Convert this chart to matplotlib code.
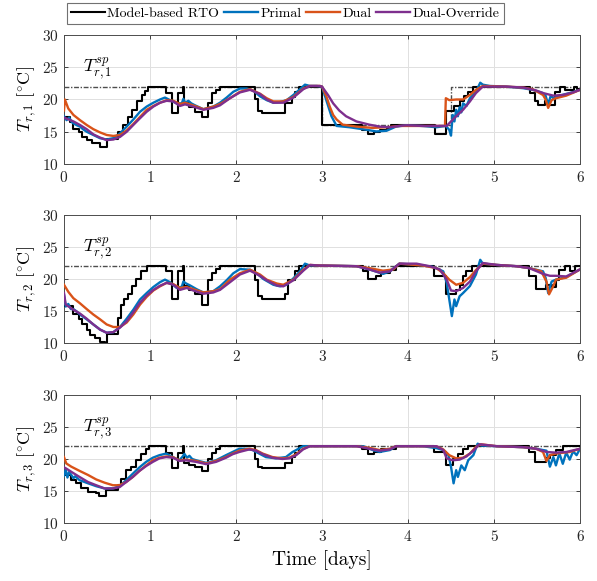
import matplotlib
matplotlib.use("Agg")
import matplotlib.pyplot as plt
import numpy as np

plt.rcParams['font.family'] = ['cmr10', 'DejaVu Serif']
plt.rcParams['mathtext.fontset'] = 'cm'
plt.rcParams['axes.unicode_minus'] = False
plt.rcParams['axes.formatter.use_mathtext'] = True

C_RTO = 'black'
C_PRI = '#0072BD'
C_DUAL = '#D95319'
C_OVR = '#7E2F8E'

legend_labels = ['Model-based RTO', 'Primal', 'Dual', 'Dual-Override']
xticks = [0, 1, 2, 3, 4, 5, 6]
yticks = [10, 15, 20, 25, 30]

# ---------------- setpoints ----------------
sp1_t = [0, 3.0, 3.0, 4.5, 4.5, 6.0]
sp1_T = [22, 22, 16, 16, 22, 22]
sp2_t = [0, 6.0]
sp2_T = [22, 22]
sp3_t = [0, 6.0]
sp3_T = [22, 22]

# ---------------- panel 1 ----------------
rto1_t = [0, 0.07, 0.11, 0.17, 0.205, 0.264, 0.32, 0.42, 0.5, 0.632, 0.69, 0.748, 0.787, 0.845, 0.903, 0.942, 0.98,
          1.186, 1.252, 1.33, 1.38, 1.395, 1.457, 1.52, 1.6, 1.678, 1.717, 1.767, 1.814, 2.221, 2.26, 2.3, 2.57,
          2.647, 2.686, 2.736, 3.0, 3.47, 3.53, 3.6, 3.67, 3.75, 3.8, 4.31, 4.44, 4.53, 4.6, 4.65, 4.7, 4.76,
          5.418, 5.477, 5.515, 5.593, 5.64, 5.71, 5.77, 5.83, 5.93, 5.97, 6.0]
rto1_T = [17.3, 16.5, 15.5, 15.0, 14.2, 13.7, 13.2, 12.6, 13.9, 15.0, 16.0, 17.3, 18.4, 19.7, 20.7, 21.3, 22.0,
          21.0, 17.9, 21.0, 22.0, 19.4, 18.9, 18.1, 17.3, 19.4, 21.0, 21.5, 22.0, 20.0, 18.2, 17.9, 19.4,
          20.4, 21.2, 22.0, 16.0, 15.3, 14.6, 14.9, 15.3, 15.6, 16.0, 14.7, 18.2, 19.0, 19.7, 20.5, 21.2, 22.0,
          21.0, 19.8, 19.1, 19.8, 19.2, 21.1, 22.0, 21.5, 22.0, 21.6, 21.6]

pri1_t = [0, 0.03, 0.06, 0.09, 0.11, 0.15, 0.186, 0.22, 0.264, 0.341, 0.419, 0.496, 0.574, 0.651, 0.729, 0.806,
          0.884, 0.961, 1.039, 1.116, 1.174, 1.233, 1.31, 1.37, 1.388, 1.41, 1.446, 1.48, 1.523, 1.62, 1.736, 1.814,
          1.891, 1.969, 2.046, 2.124, 2.2, 2.279, 2.357, 2.434, 2.511, 2.589, 2.667, 2.744, 2.802, 2.86, 2.938,
          3.0, 3.05, 3.11, 3.17, 3.32, 3.52, 3.63, 3.75, 3.86, 3.98, 4.17, 4.33, 4.44, 4.48, 4.5, 4.52, 4.54,
          4.56, 4.58, 4.6, 4.62, 4.64, 4.68, 4.72, 4.79, 4.84, 4.87, 4.95, 5.14, 5.34, 5.45, 5.57, 5.6, 5.63,
          5.66, 5.69, 5.76, 5.88, 6.0]
pri1_T = [17.4, 16.8, 17.2, 16.5, 16.3, 16.0, 15.8, 15.4, 15.0, 14.5, 14.0, 13.8, 14.0, 14.75, 15.8, 16.9,
          18.1, 18.9, 19.5, 20.0, 20.3, 19.9, 19.4, 19.4, 20.1, 19.5, 19.8, 19.4, 19.1, 18.5, 18.9, 19.5,
          20.3, 21.2, 21.7, 21.7, 21.4, 20.5, 19.9, 19.5, 19.6, 19.9, 20.7, 21.6, 22.3, 22.1, 22.1,
          22.0, 19.9, 17.4, 15.9, 15.7, 15.3, 15.05, 15.15, 15.8, 16.0, 15.9, 15.7, 15.9, 15.3, 14.4, 17.6, 16.6,
          18.4, 17.4, 18.8, 18.0, 19.4, 19.0, 20.2, 21.2, 22.6, 22.3, 22.1, 22.0, 21.75, 21.5, 21.0, 20.6, 19.2,
          20.6, 20.2, 20.6, 21.0, 21.5]

dual1_t = [0, 0.01, 0.05, 0.11, 0.186, 0.264, 0.341, 0.419, 0.496, 0.574, 0.651, 0.729, 0.806, 0.884, 0.961,
           1.039, 1.116, 1.194, 1.271, 1.349, 1.407, 1.465, 1.543, 1.62, 1.736, 1.814, 1.93, 2.046, 2.163, 2.279,
           2.357, 2.434, 2.55, 2.667, 2.783, 2.86, 2.976, 3.0, 3.05, 3.09, 3.13, 3.17, 3.24, 3.4, 3.59, 3.75,
           3.9, 4.17, 4.43, 4.44, 4.48, 4.56, 4.64, 4.72, 4.79, 4.87, 5.14, 5.34, 5.45, 5.57, 5.6, 5.63, 5.67,
           5.72, 5.84, 6.0]
dual1_T = [18.3, 20.0, 18.6, 17.6, 16.8, 16.05, 15.4, 14.9, 14.5, 14.35, 14.5, 15.2, 16.2, 17.3, 18.4,
           19.0, 19.5, 19.9, 19.8, 19.3, 19.5, 19.25, 18.9, 18.5, 18.9, 19.3, 20.2, 21.2, 21.6, 20.9,
           20.2, 19.7, 19.7, 20.4, 21.7, 22.1, 22.1, 22.0, 20.5, 18.9, 17.6, 16.9, 16.1, 15.8, 15.6, 15.7,
           15.9, 15.9, 15.9, 20.2, 19.9, 20.0, 20.0, 20.7, 21.5, 22.1, 22.0, 21.85, 21.6, 20.7, 20.0, 18.7, 19.9,
           20.2, 20.6, 21.5]

ovr1_t = [0, 0.11, 0.186, 0.264, 0.341, 0.419, 0.496, 0.574, 0.651, 0.729, 0.806, 0.884, 0.961, 1.039,
          1.116, 1.194, 1.271, 1.349, 1.407, 1.504, 1.62, 1.736, 1.814, 1.93, 2.046, 2.163, 2.279, 2.357, 2.434,
          2.55, 2.667, 2.783, 2.86, 2.976, 3.0, 3.07, 3.13, 3.2, 3.28, 3.4, 3.55, 3.67, 3.79, 3.9, 3.98, 4.17,
          4.45, 4.5, 4.56, 4.64, 4.72, 4.79, 4.87, 5.14, 5.34, 5.49, 5.57, 5.69, 5.8, 5.92, 6.0]
ovr1_T = [17.2, 16.6, 16.05, 15.4, 14.6, 14.1, 13.7, 13.8, 14.2, 15.0, 16.05, 17.1, 18.1, 18.9,
          19.5, 19.8, 19.7, 19.0, 19.25, 18.9, 18.4, 18.7, 19.1, 20.2, 21.1, 21.5, 20.85, 20.0, 19.5,
          19.5, 20.3, 21.6, 22.1, 22.1, 22.0, 20.7, 19.4, 18.3, 17.4, 16.6, 16.1, 15.8, 15.7, 15.9, 16.0, 15.9,
          15.9, 16.6, 17.4, 18.4, 19.7, 21.0, 22.0, 22.0, 21.85, 21.4, 21.0, 20.6, 20.7, 21.1, 21.5]

# ---------------- panel 2 ----------------
rto2_t = [0, 0.11, 0.17, 0.205, 0.264, 0.3, 0.36, 0.42, 0.48, 0.5, 0.632, 0.66, 0.70, 0.74, 0.79, 0.84, 0.9,
          0.96, 1.186, 1.252, 1.33, 1.38, 1.395, 1.45, 1.52, 1.6, 1.678, 1.717, 1.767, 1.814, 2.221, 2.26, 2.3,
          2.57, 2.6, 2.686, 2.736, 3.48, 3.53, 3.63, 3.69, 3.79, 3.86, 4.3, 4.44, 4.56, 4.6, 4.64, 4.68, 4.74,
          5.41, 5.49, 5.61, 5.67, 5.72, 5.75, 5.82, 5.88, 5.94, 6.0]
rto2_T = [15.8, 14.5, 13.7, 12.9, 12.0, 11.3, 10.8, 10.2, 8.5, 11.4, 13.9, 16.0, 16.8, 17.6, 18.9, 20.0, 21.2,
          22.0, 21.2, 16.8, 21.2, 22.0, 18.9, 18.3, 17.6, 16.0, 19.9, 21.0, 21.5, 22.0, 19.9, 17.3, 16.8,
          17.6, 19.9, 21.2, 22.0, 21.2, 20.0, 20.5, 20.9, 21.4, 22.0, 20.4, 17.6, 18.3, 19.1, 20.4, 21.2, 22.0,
          20.4, 18.5, 19.1, 18.8, 19.9, 21.4, 22.0, 21.3, 22.0, 22.0]

pri2_t = [0, 0.02, 0.05, 0.08, 0.109, 0.15, 0.186, 0.264, 0.341, 0.419, 0.496, 0.574, 0.651, 0.729, 0.806,
          0.884, 0.961, 1.039, 1.116, 1.174, 1.233, 1.31, 1.37, 1.388, 1.42, 1.465, 1.543, 1.62, 1.736, 1.814,
          1.891, 1.969, 2.046, 2.163, 2.24, 2.318, 2.434, 2.511, 2.589, 2.667, 2.744, 2.802, 2.86, 3.01, 3.4,
          3.55, 3.71, 3.79, 3.9, 4.02, 4.17, 4.29, 4.41, 4.45, 4.48, 4.51, 4.54, 4.56, 4.6, 4.64, 4.72, 4.79,
          4.84, 4.87, 5.03, 5.26, 5.41, 5.57, 5.6, 5.63, 5.67, 5.72, 5.84, 6.0]
pri2_T = [17.5, 15.7, 16.1, 15.3, 15.3, 14.9, 14.45, 13.7, 12.9, 12.1, 11.6, 11.7, 12.5, 13.8, 15.2,
          16.8, 17.8, 18.75, 19.5, 19.9, 19.5, 18.6, 18.8, 19.6, 19.3, 19.0, 18.4, 17.9, 18.1, 18.85,
          19.8, 20.9, 21.55, 21.45, 20.9, 20.0, 19.1, 18.85, 19.1, 20.1, 21.2, 22.4, 22.1, 22.1, 22.0,
          21.5, 20.8, 21.2, 22.4, 22.3, 22.1, 21.9, 21.2, 19.4, 16.8, 14.2, 16.8, 15.75, 17.3, 17.8, 18.9, 20.7,
          23.0, 22.4, 22.2, 22.0, 21.7, 21.2, 20.2, 17.8, 19.6, 19.9, 20.3, 21.5]

dual2_t = [0, 0.05, 0.109, 0.186, 0.264, 0.341, 0.419, 0.496, 0.574, 0.651, 0.729, 0.806, 0.884, 0.961,
           1.039, 1.116, 1.194, 1.271, 1.349, 1.426, 1.504, 1.62, 1.736, 1.814, 1.93, 2.046, 2.163, 2.279,
           2.357, 2.473, 2.55, 2.667, 2.783, 2.86, 2.976, 3.01, 3.4, 3.55, 3.71, 3.83, 3.9, 4.17, 4.33, 4.41,
           4.48, 4.56, 4.64, 4.72, 4.79, 4.87, 5.03, 5.26, 5.41, 5.55, 5.61, 5.64, 5.69, 5.72, 5.84, 6.0]
dual2_T = [19.1, 18.0, 17.0, 16.2, 15.3, 14.45, 13.7, 12.9, 12.5, 12.5, 13.2, 14.45, 16.0, 17.2,
           18.2, 18.85, 19.4, 19.2, 18.6, 18.75, 18.4, 17.9, 18.1, 18.4, 19.9, 20.9, 21.45, 20.7,
           19.9, 19.3, 19.1, 19.9, 21.45, 22.2, 22.1, 22.1, 22.0, 21.7, 21.3, 21.5, 22.4, 22.1, 21.7, 20.9,
           19.9, 19.1, 19.4, 20.3, 21.4, 22.4, 22.2, 22.0, 21.7, 21.2, 19.6, 17.6, 18.9, 19.9, 20.2, 21.5]

ovr2_t = [0, 0.02, 0.109, 0.186, 0.264, 0.341, 0.419, 0.496, 0.574, 0.651, 0.729, 0.806, 0.884, 0.961,
          1.039, 1.116, 1.194, 1.271, 1.349, 1.426, 1.504, 1.62, 1.736, 1.814, 1.93, 2.046, 2.163, 2.279,
          2.357, 2.473, 2.55, 2.667, 2.783, 2.86, 2.976, 3.01, 3.4, 3.55, 3.67, 3.79, 3.9, 4.1, 4.25, 4.37,
          4.45, 4.5, 4.56, 4.64, 4.72, 4.79, 4.87, 5.03, 5.26, 5.41, 5.57, 5.65, 5.72, 5.84, 6.0]
ovr2_T = [17.8, 16.0, 15.2, 14.6, 13.8, 12.9, 12.1, 11.6, 11.7, 12.4, 13.4, 14.8, 16.3, 17.4,
          18.3, 18.95, 19.4, 19.1, 18.3, 18.6, 18.2, 17.7, 17.9, 18.3, 19.5, 20.7, 21.3, 20.5,
          19.8, 19.0, 18.85, 19.8, 21.3, 22.2, 22.1, 22.1, 22.0, 21.5, 21.0, 21.2, 22.4, 22.4, 22.0, 21.5,
          19.9, 18.2, 18.1, 18.6, 19.6, 21.2, 22.5, 22.2, 22.0, 21.7, 20.8, 20.5, 20.5, 20.4, 21.5]

# ---------------- panel 3 ----------------
rto3_t = [0, 0.085, 0.143, 0.2, 0.28, 0.375, 0.41, 0.49, 0.627, 0.665, 0.72, 0.78, 0.84, 0.9, 0.955, 0.99,
          1.186, 1.252, 1.33, 1.38, 1.395, 1.45, 1.52, 1.6, 1.678, 1.717, 1.767, 1.814, 2.221, 2.26, 2.3, 2.57,
          2.647, 2.686, 2.736, 3.47, 3.53, 3.61, 3.69, 3.86, 4.3, 4.44, 4.52, 4.58, 4.64, 4.7, 5.41, 5.48, 5.6,
          5.65, 5.72, 5.8, 6.0]
rto3_T = [17.5, 16.7, 16.2, 15.5, 14.85, 14.7, 14.2, 15.1, 15.9, 16.9, 18.25, 18.7, 19.8, 20.75, 21.6, 22.0,
          21.0, 18.6, 21.0, 22.0, 19.3, 19.1, 18.8, 18.1, 20.0, 21.0, 21.5, 22.0, 20.0, 18.7, 18.6, 19.3,
          20.3, 21.0, 22.0, 21.6, 20.75, 21.1, 21.6, 22.0, 21.1, 19.0, 20.0, 20.8, 21.6, 22.0, 21.1, 19.6, 20.1,
          20.7, 21.4, 22.0, 22.0]

pri3_t = [0, 0.02, 0.04, 0.06, 0.085, 0.11, 0.13, 0.18, 0.28, 0.375, 0.472, 0.569, 0.646, 0.723, 0.8, 0.878,
          0.955, 1.033, 1.11, 1.188, 1.265, 1.342, 1.38, 1.4, 1.43, 1.458, 1.49, 1.536, 1.652, 1.768, 1.884,
          1.961, 2.039, 2.116, 2.193, 2.27, 2.348, 2.464, 2.58, 2.658, 2.7, 2.78, 2.86, 3.4, 3.48, 3.59, 3.67,
          3.79, 3.86, 4.17, 4.33, 4.41, 4.47, 4.5, 4.53, 4.56, 4.58, 4.62, 4.66, 4.7, 4.76, 4.81, 4.85, 5.03,
          5.34, 5.49, 5.61, 5.65, 5.69, 5.72, 5.76, 5.8, 5.84, 5.88, 5.92, 5.96, 6.0]
pri3_T = [17.4, 18.3, 17.1, 18.0, 17.5, 17.0, 17.3, 16.7, 16.2, 15.75, 15.4, 15.4, 15.75, 16.7, 17.7, 18.7,
          19.55, 20.2, 20.6, 20.85, 20.3, 19.8, 20.4, 20.8, 20.2, 20.5, 20.0, 19.8, 19.4, 19.8, 20.6,
          21.1, 21.6, 21.6, 21.4, 20.85, 20.3, 20.1, 20.3, 21.1, 21.4, 22.0, 22.0, 22.0, 22.0, 21.4, 21.1,
          21.4, 22.0, 22.0, 21.7, 21.4, 20.6, 18.8, 16.2, 18.25, 17.2, 19.0, 18.25, 19.8, 20.6, 22.4, 22.1, 22.0,
          21.85, 21.6, 21.3, 18.8, 20.3, 19.0, 20.9, 19.25, 21.0, 19.9, 21.2, 20.6, 21.6]

dual3_t = [0, 0.027, 0.085, 0.18, 0.28, 0.375, 0.472, 0.569, 0.646, 0.723, 0.8, 0.878, 0.955, 1.033, 1.11,
           1.188, 1.265, 1.342, 1.42, 1.536, 1.652, 1.768, 1.884, 1.961, 2.039, 2.155, 2.232, 2.31, 2.425, 2.54,
           2.62, 2.7, 2.78, 2.86, 3.4, 3.55, 3.67, 3.79, 3.86, 4.33, 4.41, 4.48, 4.56, 4.64, 4.72, 4.79, 4.85,
           5.03, 5.34, 5.49, 5.57, 5.61, 5.65, 5.72, 5.88, 6.0]
dual3_T = [20.3, 19.3, 18.8, 18.15, 17.5, 16.8, 16.3, 15.9, 15.9, 16.4, 17.2, 18.15, 19.0, 19.8, 20.2,
           20.4, 20.3, 19.8, 19.9, 19.7, 19.3, 19.7, 20.3, 20.85, 21.3, 21.6, 21.4, 20.85, 20.3, 20.1,
           20.2, 20.75, 21.6, 22.0, 22.0, 21.75, 21.4, 21.6, 22.0, 22.0, 21.5, 20.6, 20.1, 20.2, 20.85, 21.9, 22.3,
           22.0, 21.85, 21.6, 21.1, 19.7, 20.6, 20.85, 21.1, 21.6]

ovr3_t = [0, 0.027, 0.085, 0.18, 0.28, 0.375, 0.472, 0.569, 0.646, 0.723, 0.8, 0.878, 0.955, 1.033, 1.11,
          1.188, 1.265, 1.342, 1.42, 1.536, 1.652, 1.768, 1.884, 1.961, 2.039, 2.155, 2.232, 2.31, 2.425, 2.54,
          2.62, 2.7, 2.78, 2.86, 3.4, 3.55, 3.67, 3.79, 3.86, 4.33, 4.41, 4.45, 4.52, 4.6, 4.68, 4.76, 4.83,
          5.03, 5.34, 5.49, 5.61, 5.72, 5.84, 6.0]
ovr3_T = [18.7, 18.5, 18.0, 17.2, 16.4, 15.9, 15.4, 15.4, 15.6, 16.4, 17.2, 18.15, 18.9, 19.55, 20.1,
          20.3, 20.2, 19.7, 19.8, 19.55, 19.2, 19.55, 20.2, 20.75, 21.1, 21.5, 21.3, 20.75, 20.2, 20.0,
          20.1, 20.6, 21.5, 22.0, 22.0, 21.6, 21.3, 21.5, 22.0, 22.0, 21.4, 20.1, 19.8, 19.9, 20.4, 21.3, 22.3,
          22.0, 21.85, 21.6, 21.1, 21.0, 21.1, 21.6]

panels = [
    dict(sp=(sp1_t, sp1_T), rto=(rto1_t, rto1_T), pri=(pri1_t, pri1_T), dual=(dual1_t, dual1_T),
         ovr=(ovr1_t, ovr1_T), idx='1'),
    dict(sp=(sp2_t, sp2_T), rto=(rto2_t, rto2_T), pri=(pri2_t, pri2_T), dual=(dual2_t, dual2_T),
         ovr=(ovr2_t, ovr2_T), idx='2'),
    dict(sp=(sp3_t, sp3_T), rto=(rto3_t, rto3_T), pri=(pri3_t, pri3_T), dual=(dual3_t, dual3_T),
         ovr=(ovr3_t, ovr3_T), idx='3'),
]

W, H = 597, 581
fig = plt.figure(figsize=(W / 100, H / 100), dpi=100)
left, right = 64 / W, 580 / W
tops = [35, 215, 395]
bots = [164, 343, 523]

handles = None
for p, top, bot in zip(panels, tops, bots):
    ax = fig.add_axes([left, 1 - bot / H, right - left, (bot - top) / H])
    ax.plot(*p['sp'], color='0.3', lw=1.0, ls=(0, (3.5, 1.2, 1, 1.2)), zorder=2)
    h0, = ax.plot(*p['rto'], color=C_RTO, lw=1.5, drawstyle='steps-post', zorder=3)
    h1, = ax.plot(*p['pri'], color=C_PRI, lw=1.7, zorder=4)
    h2, = ax.plot(*p['dual'], color=C_DUAL, lw=1.7, zorder=5)
    h3, = ax.plot(*p['ovr'], color=C_OVR, lw=1.7, zorder=6)
    if handles is None:
        handles = [h0, h1, h2, h3]
    ax.set_xlim(0, 6)
    ax.set_ylim(10, 30)
    ax.set_xticks(xticks)
    ax.set_yticks(yticks)
    ax.grid(True, color='0.88', lw=0.7)
    ax.set_axisbelow(True)
    ax.tick_params(direction='in', top=True, right=True, length=3, width=0.6, colors='0.15',
                   labelsize=11, pad=4)
    for s in ax.spines.values():
        s.set_color('0.3')
        s.set_linewidth(0.7)
    ax.set_ylabel(r'$T_{r,%s}\ [^{\circ}\mathrm{C}]$' % p['idx'], fontsize=13, labelpad=3)
    ax.text(0.22, 24.7, r'$T^{sp}_{r,%s}$' % p['idx'], fontsize=13, ha='left', va='center')
    if p['idx'] == '3':
        ax.set_xlabel('Time [days]', fontsize=14, labelpad=5)

leg = fig.legend(handles, legend_labels, loc='center', bbox_to_anchor=(0.478, 0.977), ncol=4,
                 frameon=True, fancybox=False, edgecolor='0.3', fontsize=10, handlelength=2.4,
                 columnspacing=0.35, handletextpad=0.2, borderpad=0.3, borderaxespad=0)
leg.get_frame().set_linewidth(0.8)

fig.savefig('out.png', dpi=100)
